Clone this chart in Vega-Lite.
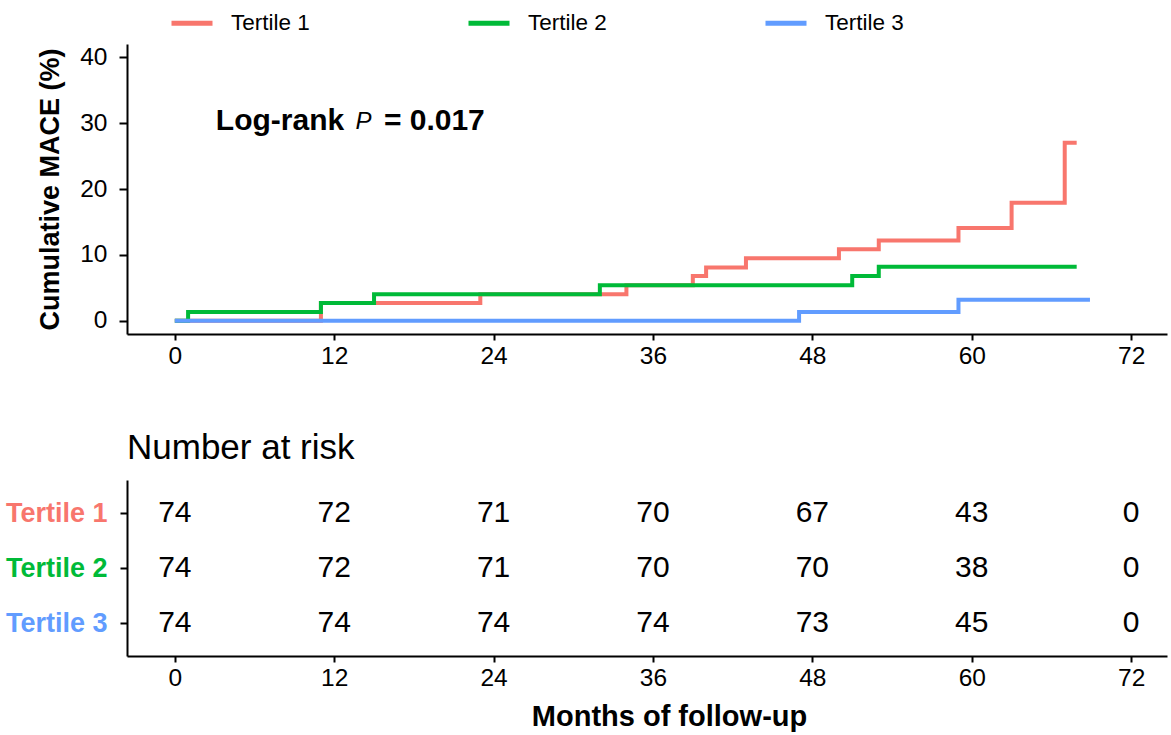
{
  "$schema": "https://vega.github.io/schema/vega-lite/v6.json",
  "padding": {"left": 5, "top": 0, "right": 3, "bottom": 2},
  "background": "white",
  "config": {
    "font": "Liberation Sans",
    "view": {"stroke": null},
    "axis": {
      "grid": false,
      "domainColor": "black",
      "domainWidth": 2,
      "tickColor": "black",
      "tickWidth": 2,
      "tickSize": 7,
      "labelColor": "black",
      "labelFontSize": 24.5,
      "labelFont": "Liberation Sans",
      "titleColor": "black",
      "titleFont": "Liberation Sans"
    }
  },
  "datasets": {
    "km": [
      {"time": 0, "cum": 0, "group": "Tertile 1"},
      {"time": 11, "cum": 2.7, "group": "Tertile 1"},
      {"time": 23, "cum": 4.05, "group": "Tertile 1"},
      {"time": 34, "cum": 5.4, "group": "Tertile 1"},
      {"time": 39, "cum": 6.8, "group": "Tertile 1"},
      {"time": 40, "cum": 8.1, "group": "Tertile 1"},
      {"time": 43, "cum": 9.5, "group": "Tertile 1"},
      {"time": 50, "cum": 10.85, "group": "Tertile 1"},
      {"time": 53, "cum": 12.2, "group": "Tertile 1"},
      {"time": 59, "cum": 14.1, "group": "Tertile 1"},
      {"time": 63, "cum": 17.9, "group": "Tertile 1"},
      {"time": 67, "cum": 27.0, "group": "Tertile 1"},
      {"time": 67.9, "cum": 27.0, "group": "Tertile 1"},
      {"time": 0, "cum": 0, "group": "Tertile 2"},
      {"time": 1, "cum": 1.35, "group": "Tertile 2"},
      {"time": 11, "cum": 2.7, "group": "Tertile 2"},
      {"time": 15, "cum": 4.05, "group": "Tertile 2"},
      {"time": 32, "cum": 5.4, "group": "Tertile 2"},
      {"time": 51, "cum": 6.8, "group": "Tertile 2"},
      {"time": 53, "cum": 8.2, "group": "Tertile 2"},
      {"time": 67.9, "cum": 8.2, "group": "Tertile 2"},
      {"time": 0, "cum": 0, "group": "Tertile 3"},
      {"time": 47, "cum": 1.35, "group": "Tertile 3"},
      {"time": 59, "cum": 3.2, "group": "Tertile 3"},
      {"time": 68.9, "cum": 3.2, "group": "Tertile 3"}
    ],
    "risk": [
      {"time": 0, "group": "Tertile 1", "n": 74},
      {"time": 12, "group": "Tertile 1", "n": 72},
      {"time": 24, "group": "Tertile 1", "n": 71},
      {"time": 36, "group": "Tertile 1", "n": 70},
      {"time": 48, "group": "Tertile 1", "n": 67},
      {"time": 60, "group": "Tertile 1", "n": 43},
      {"time": 72, "group": "Tertile 1", "n": 0},
      {"time": 0, "group": "Tertile 2", "n": 74},
      {"time": 12, "group": "Tertile 2", "n": 72},
      {"time": 24, "group": "Tertile 2", "n": 71},
      {"time": 36, "group": "Tertile 2", "n": 70},
      {"time": 48, "group": "Tertile 2", "n": 70},
      {"time": 60, "group": "Tertile 2", "n": 38},
      {"time": 72, "group": "Tertile 2", "n": 0},
      {"time": 0, "group": "Tertile 3", "n": 74},
      {"time": 12, "group": "Tertile 3", "n": 74},
      {"time": 24, "group": "Tertile 3", "n": 74},
      {"time": 36, "group": "Tertile 3", "n": 74},
      {"time": 48, "group": "Tertile 3", "n": 73},
      {"time": 60, "group": "Tertile 3", "n": 45},
      {"time": 72, "group": "Tertile 3", "n": 0}
    ],
    "note": [{"label": "Log-rank P = 0.017"}]
  },
  "bounds": "flush",
  "spacing": 146,
  "vconcat": [
    {
      "width": 1040,
      "height": 290,
      "layer": [
        {
          "data": {"name": "km"},
          "mark": {"type": "line", "interpolate": "step-after", "strokeWidth": 4},
          "encoding": {
            "x": {
              "field": "time", "type": "quantitative",
              "scale": {"domain": [-3.6, 74.7], "nice": false, "zero": false},
              "axis": {"values": [0, 12, 24, 36, 48, 60, 72], "title": null, "labelPadding": 4, "tickSize": 6}
            },
            "y": {
              "field": "cum", "type": "quantitative",
              "scale": {"domain": [-2, 42], "nice": false, "zero": false},
              "axis": {"values": [0, 10, 20, 30, 40], "title": "Cumulative MACE (%)", "titleFontSize": 27, "titleFontWeight": "bold", "titlePadding": 15, "labelPadding": 12, "tickSize": 8}
            },
            "color": {
              "field": "group", "type": "nominal",
              "scale": {"domain": ["Tertile 1", "Tertile 2", "Tertile 3"], "range": ["#F8766D", "#00BA38", "#619CFF"]},
              "legend": {"orient": "none", "legendX": 42, "legendY": -44, "direction": "horizontal", "title": null, "symbolType": "stroke", "symbolSize": 1681, "symbolStrokeWidth": 5, "labelFontSize": 22.5, "labelOffset": 16, "columnPadding": 148, "padding": 0, "labelColor": "black", "labelFont": "Liberation Sans"}
            }
          }
        },
        {
          "data": {"name": "note"},
          "mark": {"type": "text", "align": "left", "baseline": "middle", "fontSize": 30, "fontWeight": "bold", "color": "black"},
          "encoding": {"x": {"datum": 3.09}, "y": {"datum": 30.3}, "text": {"value": "Log-rank"}}
        },
        {
          "data": {"name": "note"},
          "mark": {"type": "text", "align": "left", "baseline": "middle", "fontSize": 24, "fontStyle": "italic", "color": "black"},
          "encoding": {"x": {"datum": 13.6}, "y": {"datum": 30.1}, "text": {"value": "P"}}
        },
        {
          "data": {"name": "note"},
          "mark": {"type": "text", "align": "left", "baseline": "middle", "fontSize": 30, "fontWeight": "bold", "color": "black"},
          "encoding": {"x": {"datum": 15.74}, "y": {"datum": 30.3}, "text": {"value": "= 0.017"}}
        }
      ]
    },
    {
      "width": 1040,
      "height": 176,
      "title": {"text": "Number at risk", "anchor": "start", "frame": "group", "fontSize": 35, "fontWeight": "normal", "color": "black", "offset": 14, "font": "Liberation Sans"},
      "data": {"name": "risk"},
      "mark": {"type": "text", "fontSize": 30, "color": "black", "baseline": "middle"},
      "encoding": {
        "x": {
          "field": "time", "type": "quantitative",
          "scale": {"domain": [-3.6, 74.7], "nice": false, "zero": false},
          "axis": {"values": [0, 12, 24, 36, 48, 60, 72], "title": "Months of follow-up", "titleFontSize": 29, "titleFontWeight": "bold", "titlePadding": 13, "labelPadding": 4, "tickSize": 6, "titleX": 542, "titleAlign": "center"}
        },
        "y": {
          "field": "group", "type": "nominal",
          "scale": {"type": "point", "padding": 0.6, "domain": ["Tertile 1", "Tertile 2", "Tertile 3"]},
          "axis": {"title": null, "labelFontSize": 27, "labelFontWeight": "bold", "labelPadding": 13, "labelColor": {"expr": "datum.value === 'Tertile 1' ? '#F8766D' : datum.value === 'Tertile 2' ? '#00BA38' : '#619CFF'"}}
        },
        "text": {"field": "n", "type": "quantitative"}
      }
    }
  ]
}
